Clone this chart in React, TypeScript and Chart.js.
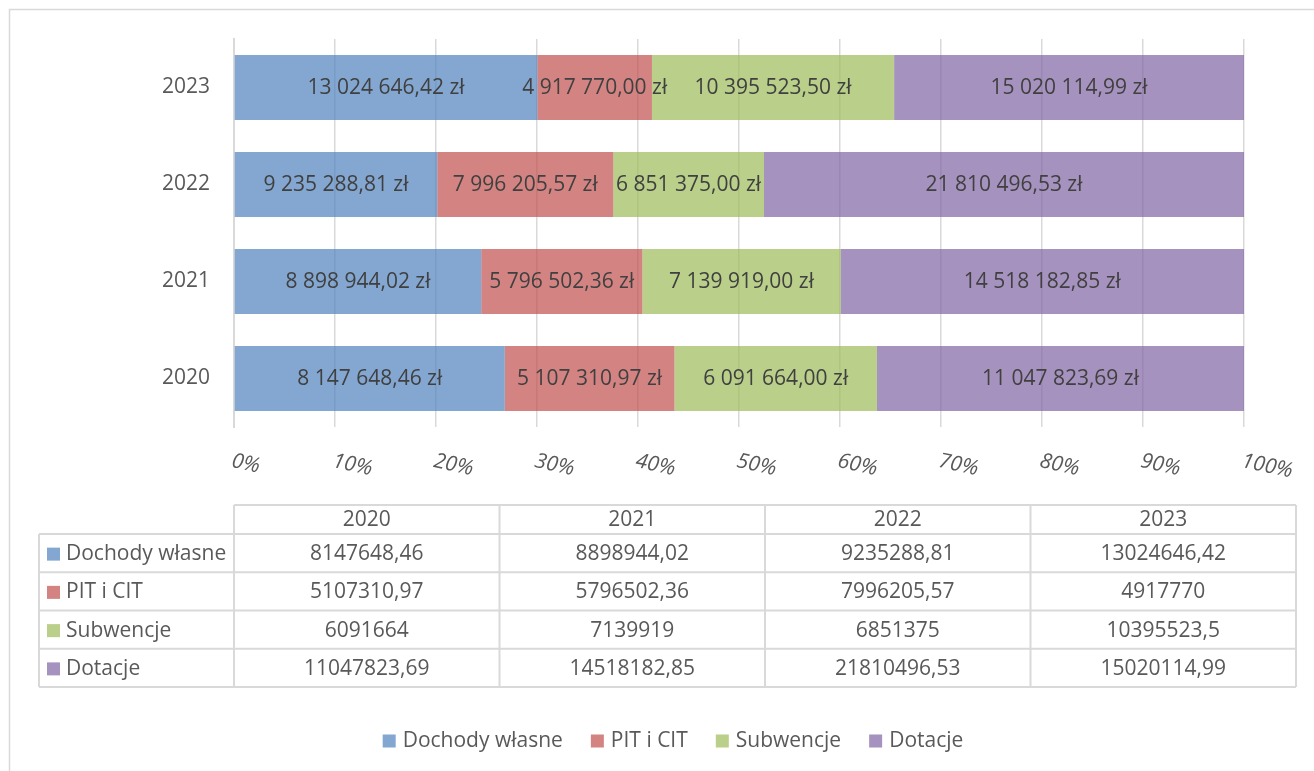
import React, { useEffect, useRef } from 'react';
import { Chart, registerables } from 'chart.js';

Chart.register(...registerables);

const categories = ['2020', '2021', '2022', '2023'];
const seriesNames = ['Dochody własne', 'PIT i CIT', 'Subwencje', 'Dotacje'];
const dochodyWlasne = [8147648.46, 8898944.02, 9235288.81, 13024646.42];
const pitICit = [5107310.97, 5796502.36, 7996205.57, 4917770];
const subwencje = [6091664, 7139919, 6851375, 10395523.5];
const dotacje = [11047823.69, 14518182.85, 21810496.53, 15020114.99];
const percentTicks = [0, 10, 20, 30, 40, 50, 60, 70, 80, 90, 100];

const seriesValues = [dochodyWlasne, pitICit, subwencje, dotacje];
const seriesColors = [
  'rgba(79,129,189,0.7)',
  'rgba(192,80,77,0.7)',
  'rgba(155,187,89,0.7)',
  'rgba(128,100,162,0.7)',
];

const FONT = '"Open Sans", sans-serif';
const TEXT = '#595959';
const LABEL = '#404040';
const LINE = '#d9d9d9';
const FS = 21;

function fmtZl(v: number): string {
  const [i, d] = v.toFixed(2).split('.');
  return i.replace(/\B(?=(\d{3})+(?!\d))/g, ' ') + ',' + d + ' zł';
}
function fmtRaw(v: number): string {
  return String(v).replace('.', ',');
}

const totals = categories.map((_, i) => seriesValues.reduce((s, arr) => s + arr[i], 0));

const overlayPlugin = {
  id: 'overlay',
  afterDatasetsDraw(chart: any) {
    const ctx = chart.ctx;
    ctx.save();
    ctx.font = `${FS}px ${FONT}`;
    ctx.fillStyle = LABEL;
    ctx.textAlign = 'center';
    ctx.textBaseline = 'middle';
    chart.data.datasets.forEach((ds: any, di: number) => {
      const meta = chart.getDatasetMeta(di);
      meta.data.forEach((el: any, i: number) => {
        const cx = (el.x + el.base) / 2;
        ctx.fillText(fmtZl(seriesValues[di][i]), cx, el.y + 1);
      });
    });
    ctx.restore();
  },
  afterDraw(chart: any) {
    const ctx = chart.ctx;
    const xs = chart.scales.x;
    const area = chart.chartArea;
    ctx.save();

    // outer frame
    ctx.strokeStyle = LINE;
    ctx.lineWidth = 1.5;
    ctx.strokeRect(9.5, 9.5, 1400, 900);

    // rotated italic tick labels
    ctx.font = `italic ${FS}px ${FONT}`;
    ctx.fillStyle = TEXT;
    ctx.textAlign = 'left';
    ctx.textBaseline = 'middle';
    percentTicks.forEach((t) => {
      const px = xs.getPixelForValue(t);
      ctx.save();
      ctx.translate(px - 2, 461);
      ctx.rotate((12 * Math.PI) / 180);
      ctx.fillText(t + '%', 0, 0);
      ctx.restore();
    });

    // data table
    const colL = area.left;
    const tableR = 1296;
    const colW = (tableR - colL) / categories.length;
    const nameL = 39;
    const headTop = 505;
    const headBot = 534;
    const rowH = (687 - headBot) / seriesNames.length;
    ctx.strokeStyle = LINE;
    ctx.lineWidth = 2;
    ctx.beginPath();
    ctx.moveTo(colL, headTop);
    ctx.lineTo(tableR, headTop);
    for (let r = 0; r <= seriesNames.length; r++) {
      const y = headBot + r * rowH;
      ctx.moveTo(nameL, y);
      ctx.lineTo(tableR, y);
    }
    ctx.moveTo(nameL, headBot);
    ctx.lineTo(nameL, headBot + seriesNames.length * rowH);
    for (let c = 0; c <= categories.length; c++) {
      const x = colL + c * colW;
      ctx.moveTo(x, headTop);
      ctx.lineTo(x, headBot + seriesNames.length * rowH);
    }
    ctx.stroke();

    ctx.font = `${FS}px ${FONT}`;
    ctx.fillStyle = TEXT;
    ctx.textAlign = 'center';
    ctx.textBaseline = 'middle';
    categories.forEach((c, i) => {
      ctx.fillText(c, colL + colW * (i + 0.5), (headTop + headBot) / 2 + 1);
    });
    seriesNames.forEach((name, r) => {
      const cy = headBot + rowH * (r + 0.5) + 1;
      ctx.fillStyle = seriesColors[r];
      ctx.fillRect(47, cy - 6.5, 13, 13);
      ctx.fillStyle = TEXT;
      ctx.textAlign = 'left';
      ctx.fillText(name, 66, cy);
      ctx.textAlign = 'center';
      seriesValues[r].forEach((v, i) => {
        ctx.fillText(fmtRaw(v), colL + colW * (i + 0.5), cy);
      });
    });

    // legend
    const sw = 13;
    const gap = 7;
    const itemGap = 28;
    const widths = seriesNames.map((n) => sw + gap + ctx.measureText(n).width);
    const total = widths.reduce((a, b) => a + b, 0) + itemGap * (seriesNames.length - 1);
    let x = 673 - total / 2;
    const ly = 741;
    ctx.textAlign = 'left';
    seriesNames.forEach((n, i) => {
      ctx.fillStyle = seriesColors[i];
      ctx.fillRect(x, ly - 6.5, sw, sw);
      ctx.fillStyle = TEXT;
      ctx.fillText(n, x + sw + gap, ly);
      x += widths[i] + itemGap;
    });

    ctx.restore();
  },
};

export default function App() {
  const ref = useRef<HTMLCanvasElement | null>(null);
  useEffect(() => {
    if (!ref.current) return;
    const chart = new Chart(ref.current, {
      type: 'bar',
      data: {
        labels: categories,
        datasets: seriesNames.map((name, di) => ({
          label: name,
          data: seriesValues[di].map((v, i) => (v / totals[i]) * 100),
          backgroundColor: seriesColors[di],
          borderWidth: 0,
          barPercentage: 0.67,
          categoryPercentage: 1,
        })),
      },
      options: {
        indexAxis: 'y',
        responsive: false,
        animation: false,
        layout: { padding: { left: 0, top: 39, right: 70, bottom: 344 } },
        plugins: { legend: { display: false }, tooltip: { enabled: false } },
        scales: {
          x: {
            stacked: true,
            min: 0,
            max: 100,
            ticks: { display: false, stepSize: 10 },
            grid: { color: LINE, lineWidth: 1.5, drawTicks: false },
            border: { display: false },
            afterFit: (s: any) => {
              s.height = 0;
            },
          },
          y: {
            stacked: true,
            reverse: true,
            ticks: { color: TEXT, font: { family: FONT, size: FS }, padding: 24 },
            grid: { display: false, drawTicks: false },
            border: { display: true, color: LINE, width: 2 },
            afterFit: (s: any) => {
              s.width = 234;
            },
          },
        },
      },
      plugins: [overlayPlugin],
    });
    return () => chart.destroy();
  }, []);
  return (
    <div style={{ position: 'absolute', left: 0, top: 0, width: 1314, height: 771, background: '#fff' }}>
      <canvas ref={ref} width={1314} height={771} style={{ display: 'block', width: 1314, height: 771 }} />
    </div>
  );
}
